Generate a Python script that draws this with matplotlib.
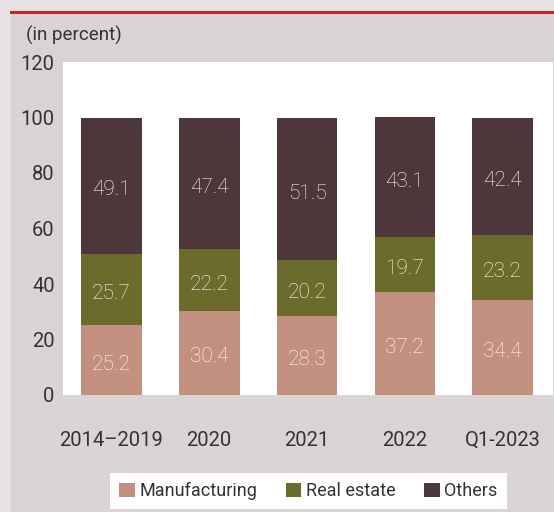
import matplotlib.pyplot as plt
import numpy as np
from matplotlib.patches import Rectangle
from matplotlib.lines import Line2D

categorias = ['2014–2019', '2020', '2021', '2022', 'Q1-2023']
manufacturing = [25.2, 30.4, 28.3, 37.2, 34.4]
real_estate = [25.7, 22.2, 20.2, 19.7, 23.2]
others = [49.1, 47.4, 51.5, 43.1, 42.4]

cores = ['#c39080', '#6b6b2b', '#4d373b']
nomes = ['Manufacturing', 'Real estate', 'Others']

plt.rcParams['font.family'] = ['Roboto', 'DejaVu Sans']

fig = plt.figure(figsize=(5.54, 5.12), dpi=100, facecolor='#e6e2e3')
# painel cinza e linha vermelha no topo
painel = Rectangle((11 / 554, 0), 1, 500 / 512, transform=fig.transFigure,
                   facecolor='#d9d3d3', edgecolor='none', zorder=-2)
fig.add_artist(painel)
fig.add_artist(Line2D([11 / 554, 1], [500.5 / 512, 500.5 / 512], transform=fig.transFigure,
                      color='#cc2229', linewidth=2.2, zorder=-1))

ax = fig.add_axes([63 / 554, 117 / 512, 490 / 554, 333 / 512])
ax.set_zorder(1)
ax.set_facecolor('white')

x = np.arange(len(categorias))
base = np.zeros(len(categorias))
for serie, cor, nome in zip([manufacturing, real_estate, others], cores, nomes):
    ax.bar(x, serie, bottom=base, width=0.62, color=cor, label=nome, zorder=2)
    for xi, b, v in zip(x, base, serie):
        ax.annotate(f'{v:.1f}', (xi, b + v / 2), xytext=(0, -3), textcoords='offset points',
                    ha='center', va='center', color='white', fontsize=15,
                    fontweight='light', zorder=3)
    base = base + np.array(serie)

ax.set_xlim(-0.495, 4.515)
ax.set_ylim(0, 120)
ax.set_yticks(range(0, 121, 20))
ax.set_xticks(x)
ax.set_xticklabels(categorias)
ax.tick_params(axis='both', length=0, labelsize=14.5, labelcolor='#333333')
ax.tick_params(axis='y', pad=6)
ax.tick_params(axis='x', pad=26)
for s in ax.spines.values():
    s.set_visible(False)

fig.text(26 / 554, 1 - 35 / 512, '(in percent)', ha='left', va='center', fontsize=13.5,
         color='#333333')

leg = fig.legend(loc='center', bbox_to_anchor=(308.5 / 554, 21 / 512), ncol=3, frameon=True,
                 fontsize=13, handlelength=0.85, handleheight=0.85, handletextpad=0.25,
                 columnspacing=1.6, borderpad=0.5, fancybox=False)
leg.set_zorder(3)
leg.get_frame().set_facecolor('white')
leg.get_frame().set_alpha(1)
leg.get_frame().set_edgecolor('none')
for t in leg.get_texts():
    t.set_color('#333333')

fig.savefig('out.png', dpi=100, facecolor=fig.get_facecolor())
